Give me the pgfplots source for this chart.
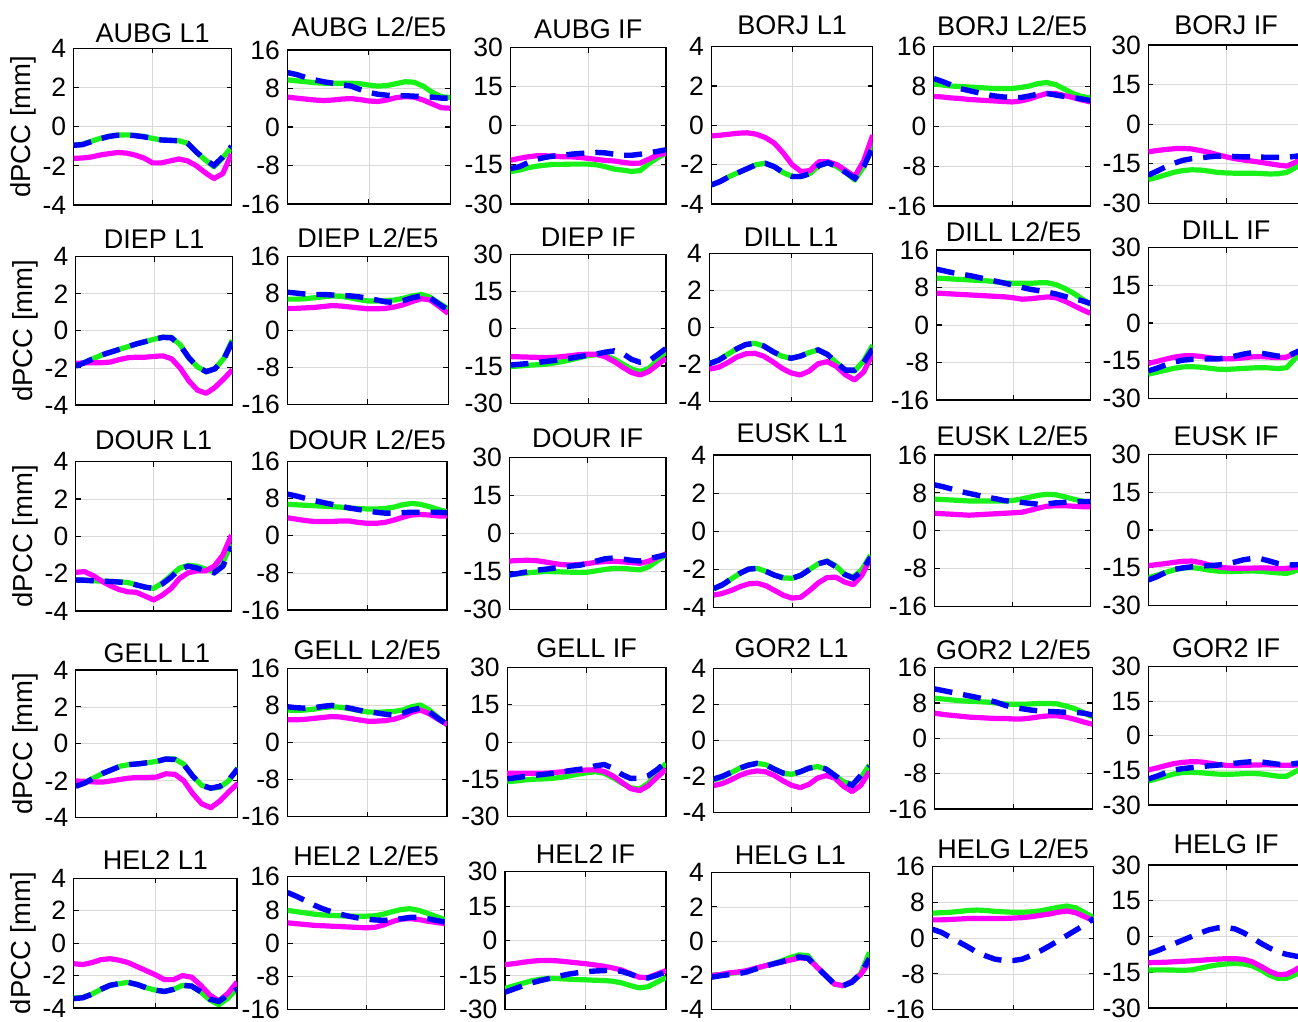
\documentclass[border=0pt]{standalone}
\usepackage{fontspec}
\setmainfont{Liberation Sans}
\usepackage{pgfplots}
\pgfplotsset{compat=1.18}
\definecolor{cg}{rgb}{0.1,0.95,0.1}
\definecolor{cm}{rgb}{1,0,1}
\definecolor{cb}{rgb}{0,0,1}
\pgfplotsset{
 every axis title/.style={at={(0.5,1)}, anchor=base, inner sep=0pt, font=\fontsize{27}{27}\selectfont},
 base/.style={scale only axis, xmin=0, xmax=18, xtick={9}, xticklabels={},
   grid=major, major grid style={line width=0.8pt, black!15},
   tick align=inside, xtick pos=both, ytick pos=both, yticklabel pos=left,
   axis line style={line width=1.1pt}, major tick style={line width=1.1pt, black},
   major tick length=5pt,
   yticklabel style={font=\fontsize{26.5}{26.5}\selectfont, xshift=-4pt},
   ylabel style={font=\fontsize{27.5}{27.5}\selectfont},
   clip=true},
 tsh/.style={title style={yshift=#1pt}},
 L1/.style={ymin=-4, ymax=4, ytick={-4,-2,0,2,4}, yticklabels={-4,-2,0,2,4}},
 L2/.style={ymin=-16, ymax=16, ytick={-16,-8,0,8,16}, yticklabels={-16,-8,0,8,16}},
 IF/.style={ymin=-30, ymax=30, ytick={-30,-15,0,15,30}, yticklabels={-30,-15,0,15,30}},
 yl/.style={ylabel={dPCC [mm]}},
 G/.style={color=cg, line width=5.2pt, line join=round},
 M/.style={color=cm, line width=5.2pt, line join=round},
 B/.style={color=cb, line width=5.4pt, dash pattern=on 18pt off 11pt},
}
\newcommand{\panel}[9]{%
\begin{axis}[base,#5,at={(#1pt,#2pt)},width=#3pt,height=#4pt,title={#6}]
\addplot[G] table[x expr=\coordindex,y index=0,row sep=\\,header=false]{#7};
\addplot[M] table[x expr=\coordindex,y index=0,row sep=\\,header=false]{#8};
\addplot[B] table[x expr=\coordindex,y index=0,row sep=\\,header=false]{#9};
\end{axis}}
\begin{document}
\begin{tikzpicture}
\path[use as bounding box] (0pt,0pt) rectangle (1298pt,1022pt);
% ---------------- Row 1
\panel{73.7}{817}{157.8}{156.7}{L1,yl,tsh=6}{AUBG L1}
{-0.94\\-0.9\\-0.75\\-0.6\\-0.5\\-0.43\\-0.42\\-0.45\\-0.5\\-0.6\\-0.68\\-0.7\\-0.72\\-0.85\\-1.3\\-1.7\\-2.05\\-1.6\\-1.05\\}
{-1.62\\-1.6\\-1.55\\-1.45\\-1.38\\-1.32\\-1.35\\-1.45\\-1.6\\-1.85\\-1.85\\-1.75\\-1.65\\-1.75\\-2.0\\-2.35\\-2.65\\-2.4\\-1.4\\}
{-0.95\\-0.92\\-0.77\\-0.62\\-0.5\\-0.44\\-0.43\\-0.46\\-0.52\\-0.6\\-0.68\\-0.7\\-0.72\\-0.85\\-1.3\\-1.68\\-1.98\\-1.55\\-1.0\\}
\panel{287.5}{818}{162.8}{154}{L2,tsh=13}{AUBG L2/E5}
{9.8\\9.6\\9.4\\9.2\\9.1\\9.1\\9.1\\9.1\\9.0\\8.7\\8.5\\8.6\\9.0\\9.4\\9.3\\8.5\\7.2\\6.3\\6.1\\}
{6.2\\6.0\\5.8\\5.6\\5.5\\5.6\\5.8\\5.9\\5.7\\5.4\\5.3\\5.6\\6.1\\6.3\\6.2\\5.6\\4.8\\4.0\\3.9\\}
{11.3\\10.9\\10.3\\9.8\\9.4\\9.1\\8.8\\8.5\\7.8\\7.2\\6.8\\6.6\\6.5\\6.5\\6.4\\6.3\\6.2\\6.0\\6.0\\}
\panel{510.5}{818}{155.5}{156.3}{IF,tsh=9}{AUBG IF}
{-17.6\\-17\\-16.1\\-15.5\\-15.1\\-14.8\\-14.8\\-14.7\\-14.7\\-14.7\\-15\\-15.7\\-16.6\\-17.0\\-17.5\\-17.2\\-14.5\\-12.3\\-10.5\\}
{-13.2\\-12.5\\-11.9\\-11.5\\-11.5\\-11.6\\-11.9\\-11.9\\-12.1\\-12.5\\-12.9\\-13.3\\-13.5\\-14.0\\-14.4\\-14.3\\-12.8\\-11.2\\-10.5\\}
{-16.4\\-15.7\\-14.2\\-12.9\\-12.1\\-11.6\\-11.3\\-10.9\\-10.6\\-10.4\\-10.2\\-10.4\\-10.9\\-11.3\\-11.3\\-10.9\\-10.4\\-9.8\\-9.2\\}
\panel{711.5}{818}{161.2}{157.3}{L1,tsh=12}{BORJ L1}
{-3.03\\-2.85\\-2.6\\-2.4\\-2.2\\-2.0\\-1.93\\-2.1\\-2.4\\-2.6\\-2.6\\-2.45\\-2.05\\-1.9\\-2.1\\-2.4\\-2.78\\-2.1\\-0.9\\}
{-0.54\\-0.5\\-0.45\\-0.4\\-0.38\\-0.45\\-0.62\\-0.9\\-1.4\\-2.0\\-2.35\\-2.3\\-1.85\\-1.85\\-2.0\\-2.3\\-2.6\\-1.8\\-0.5\\}
{-3.03\\-2.85\\-2.6\\-2.4\\-2.2\\-2.0\\-1.93\\-2.1\\-2.4\\-2.6\\-2.6\\-2.45\\-2.05\\-1.9\\-2.1\\-2.4\\-2.7\\-2.1\\-1.1\\}
\panel{933.8}{816}{156.5}{159.3}{L2,tsh=11}{BORJ L2/E5}
{8.5\\8.3\\8.1\\8.0\\7.9\\7.8\\7.7\\7.6\\7.6\\7.6\\7.8\\8.1\\8.6\\8.8\\8.4\\7.5\\6.6\\6.0\\5.7\\}
{6.0\\5.9\\5.7\\5.6\\5.4\\5.3\\5.2\\5.1\\5.0\\4.9\\5.1\\5.5\\6.1\\6.6\\6.6\\6.2\\5.8\\5.3\\4.9\\}
{9.6\\9.0\\8.3\\7.6\\7.2\\6.8\\6.4\\6.1\\5.9\\5.8\\5.8\\6.1\\6.5\\6.6\\6.3\\6.0\\5.8\\5.5\\5.2\\}
\panel{1148.4}{818.7}{155.6}{158.3}{IF,tsh=10}{BORJ IF}
{-21\\-20.2\\-19.2\\-18.2\\-17.6\\-17.3\\-17.4\\-17.8\\-18.3\\-18.5\\-18.6\\-18.6\\-18.6\\-18.7\\-18.9\\-18.8\\-18.3\\-16.5\\-14.0\\}
{-10.5\\-10.0\\-9.6\\-9.3\\-9.2\\-9.4\\-10.0\\-10.7\\-11.6\\-12.4\\-13.1\\-13.6\\-14.0\\-14.5\\-15.0\\-15.5\\-15.9\\-14.5\\-12.4\\}
{-19.3\\-17.8\\-16.2\\-14.8\\-13.7\\-13.1\\-12.8\\-12.4\\-12.1\\-12.1\\-12.3\\-12.4\\-12.4\\-12.5\\-12.6\\-12.6\\-12.6\\-12.2\\-11.7\\}
% ---------------- Row 2
\panel{75.8}{617}{156.5}{148.3}{L1,yl,tsh=8}{DIEP L1}
{-1.88\\-1.7\\-1.5\\-1.3\\-1.15\\-1.0\\-0.85\\-0.7\\-0.58\\-0.45\\-0.35\\-0.35\\-0.75\\-1.45\\-1.95\\-2.2\\-2.05\\-1.5\\-0.5\\}
{-1.75\\-1.73\\-1.72\\-1.72\\-1.68\\-1.55\\-1.45\\-1.42\\-1.42\\-1.38\\-1.35\\-1.5\\-2.0\\-2.7\\-3.2\\-3.37\\-3.05\\-2.6\\-2.1\\}
{-1.9\\-1.72\\-1.5\\-1.3\\-1.15\\-1.0\\-0.85\\-0.7\\-0.58\\-0.45\\-0.35\\-0.38\\-0.78\\-1.45\\-1.95\\-2.2\\-2.05\\-1.55\\-0.6\\}
\panel{287.5}{617.7}{160.7}{147.6}{L2,tsh=9}{DIEP L2/E5}
{6.8\\6.8\\6.9\\7.1\\7.3\\7.5\\7.4\\7.1\\6.7\\6.4\\6.4\\6.5\\6.6\\7.0\\7.5\\7.8\\7.2\\5.9\\4.7\\}
{4.8\\4.8\\4.9\\5.0\\5.2\\5.4\\5.3\\5.1\\4.9\\4.7\\4.7\\4.8\\5.1\\5.6\\6.3\\6.9\\6.6\\5.2\\3.7\\}
{8.3\\8.1\\7.9\\7.8\\7.8\\7.7\\7.6\\7.5\\7.3\\7.0\\6.6\\6.2\\6.1\\6.5\\7.1\\7.5\\7.0\\5.7\\4.4\\}
\panel{510.5}{618.7}{155.5}{149}{IF,tsh=8}{DIEP IF}
{-15.2\\-15.0\\-14.7\\-14.5\\-14.3\\-13.8\\-13.2\\-12.5\\-11.6\\-10.8\\-10.4\\-10.8\\-12.2\\-14.2\\-16.2\\-17.2\\-16.0\\-12.8\\-9.2\\}
{-11.2\\-11.3\\-11.4\\-11.5\\-11.6\\-11.5\\-11.2\\-10.8\\-10.4\\-10.2\\-10.3\\-11.3\\-13.2\\-15.5\\-17.6\\-18.6\\-17.2\\-14.5\\-11.9\\}
{-14.6\\-14.3\\-14.0\\-13.6\\-13.2\\-12.8\\-12.3\\-11.8\\-11.2\\-10.6\\-10.1\\-9.4\\-8.9\\-10.0\\-12.3\\-13.5\\-13.0\\-10.5\\-7.9\\}
\panel{709.4}{620.3}{163.3}{148.4}{L1,tsh=7}{DILL L1}
{-1.93\\-1.75\\-1.45\\-1.15\\-0.92\\-0.85\\-1.0\\-1.3\\-1.55\\-1.66\\-1.55\\-1.35\\-1.21\\-1.45\\-1.9\\-2.3\\-2.35\\-1.8\\-0.95\\}
{-2.24\\-2.15\\-1.9\\-1.6\\-1.42\\-1.39\\-1.55\\-1.85\\-2.2\\-2.45\\-2.56\\-2.35\\-1.95\\-1.84\\-2.1\\-2.55\\-2.83\\-2.4\\-1.4\\}
{-1.95\\-1.77\\-1.47\\-1.15\\-0.92\\-0.85\\-1.0\\-1.3\\-1.55\\-1.66\\-1.55\\-1.35\\-1.21\\-1.45\\-1.9\\-2.3\\-2.3\\-1.9\\-1.15\\}
\panel{936.7}{622}{153.6}{150}{L2,tsh=8}{DILL L2/E5}
{10.0\\9.9\\9.8\\9.7\\9.6\\9.5\\9.4\\9.2\\9.0\\8.9\\8.9\\8.9\\9.0\\9.0\\8.6\\7.8\\6.8\\5.6\\4.4\\}
{6.8\\6.7\\6.6\\6.5\\6.4\\6.3\\6.2\\6.1\\6.0\\5.8\\5.5\\5.6\\5.8\\6.0\\5.8\\5.1\\4.2\\3.3\\2.5\\}
{11.9\\11.5\\11.1\\10.8\\10.5\\10.1\\9.7\\9.3\\8.9\\8.5\\8.0\\7.6\\7.3\\7.0\\6.6\\6.1\\5.6\\5.2\\4.6\\}
\panel{1148.4}{623.7}{155.6}{150.6}{IF,tsh=8}{DILL IF}
{-20.4\\-19.6\\-18.8\\-18.0\\-17.5\\-17.4\\-17.6\\-18.0\\-18.4\\-18.5\\-18.3\\-18.1\\-17.9\\-17.8\\-17.9\\-18.2\\-17.8\\-14.0\\-10.1\\}
{-16.1\\-15.3\\-14.4\\-13.6\\-13.1\\-13.0\\-13.3\\-13.8\\-14.2\\-14.3\\-14.2\\-13.9\\-13.5\\-13.4\\-13.6\\-13.8\\-13.6\\-12.0\\-10.1\\}
{-19.1\\-18.0\\-16.7\\-15.5\\-14.8\\-14.5\\-14.4\\-14.3\\-14.3\\-13.9\\-13.2\\-12.4\\-11.8\\-12.0\\-12.6\\-13.2\\-13.3\\-11.8\\-10.1\\}
% ---------------- Row 3
\panel{75.8}{411}{155.7}{149.3}{L1,yl,tsh=12}{DOUR L1}
{-2.34\\-2.35\\-2.38\\-2.4\\-2.42\\-2.43\\-2.47\\-2.6\\-2.72\\-2.79\\-2.5\\-2.1\\-1.7\\-1.55\\-1.6\\-1.75\\-1.89\\-1.4\\-0.4\\}
{-1.93\\-1.89\\-2.1\\-2.4\\-2.65\\-2.85\\-2.97\\-3.0\\-3.2\\-3.41\\-3.15\\-2.8\\-2.25\\-1.95\\-1.85\\-1.85\\-1.6\\-1.0\\0.07\\}
{-2.34\\-2.35\\-2.38\\-2.4\\-2.42\\-2.45\\-2.5\\-2.6\\-2.72\\-2.79\\-2.55\\-2.2\\-1.75\\-1.6\\-1.7\\-1.85\\-1.95\\-1.6\\-0.55\\}
\panel{287.5}{412}{159.5}{148.3}{L2,tsh=12.5}{DOUR L2/E5}
{6.8\\6.7\\6.6\\6.5\\6.4\\6.3\\6.2\\6.0\\5.9\\5.8\\5.8\\5.9\\6.2\\6.7\\7.0\\6.8\\6.3\\5.7\\5.2\\}
{3.9\\3.6\\3.3\\3.1\\3.1\\3.1\\3.2\\3.2\\2.9\\2.7\\2.7\\2.9\\3.4\\4.0\\4.5\\4.6\\4.5\\4.3\\4.3\\}
{9.0\\8.6\\8.1\\7.6\\7.2\\6.8\\6.4\\6.0\\5.7\\5.4\\5.1\\4.9\\4.9\\5.0\\5.1\\5.1\\5.1\\5.1\\5.0\\}
\panel{509.3}{412.7}{156.7}{151.6}{IF,tsh=10.5}{DOUR IF}
{-16.4\\-16.0\\-15.6\\-15.3\\-15.1\\-15.1\\-15.2\\-15.3\\-15.4\\-15.3\\-14.8\\-14.2\\-13.8\\-13.8\\-14.1\\-14.4\\-13.2\\-10.8\\-8.5\\}
{-10.9\\-10.7\\-10.6\\-10.7\\-11.2\\-11.8\\-12.3\\-12.5\\-12.3\\-11.9\\-11.4\\-11.1\\-11.0\\-11.2\\-11.5\\-11.8\\-11.0\\-9.5\\-8.0\\}
{-16.4\\-15.8\\-15.2\\-14.6\\-14.2\\-13.8\\-13.3\\-12.9\\-12.6\\-11.9\\-10.9\\-10.0\\-9.7\\-10.1\\-10.6\\-10.9\\-10.0\\-9.2\\-8.5\\}
\panel{713.7}{414.3}{156.9}{152.7}{L1,tsh=12}{EUSK L1}
{-3.02\\-2.8\\-2.5\\-2.2\\-1.98\\-1.94\\-2.1\\-2.3\\-2.44\\-2.46\\-2.3\\-2.0\\-1.7\\-1.55\\-1.8\\-2.25\\-2.4\\-2.0\\-1.25\\}
{-3.34\\-3.25\\-3.1\\-2.9\\-2.75\\-2.72\\-2.85\\-3.1\\-3.35\\-3.5\\-3.45\\-3.1\\-2.7\\-2.42\\-2.4\\-2.65\\-2.8\\-2.3\\-1.4\\}
{-3.0\\-2.8\\-2.5\\-2.2\\-1.98\\-1.94\\-2.1\\-2.3\\-2.44\\-2.46\\-2.3\\-2.0\\-1.7\\-1.58\\-1.85\\-2.25\\-2.45\\-2.1\\-1.35\\}
\panel{934.6}{415.3}{155.7}{151.7}{L2,tsh=9}{EUSK L2/E5}
{6.7\\6.6\\6.5\\6.4\\6.3\\6.3\\6.3\\6.3\\6.3\\6.4\\6.7\\7.1\\7.5\\7.7\\7.6\\7.2\\6.7\\6.3\\6.0\\}
{3.7\\3.6\\3.5\\3.4\\3.3\\3.4\\3.5\\3.6\\3.7\\3.8\\3.9\\4.3\\4.8\\5.2\\5.3\\5.3\\5.2\\5.1\\5.1\\}
{9.7\\9.3\\8.8\\8.3\\7.9\\7.5\\7.1\\6.8\\6.4\\6.2\\6.0\\5.8\\5.6\\5.7\\5.9\\6.0\\6.1\\6.2\\6.2\\}
\panel{1148.4}{416.3}{155.6}{151.4}{IF,tsh=8.5}{EUSK IF}
{-18.9\\-17.9\\-16.8\\-15.8\\-15.1\\-14.9\\-15.3\\-15.9\\-16.3\\-16.5\\-16.4\\-16.3\\-16.2\\-16.4\\-16.7\\-17.0\\-17.2\\-16.2\\-15.0\\}
{-14.1\\-13.7\\-13.3\\-12.8\\-12.4\\-12.3\\-12.9\\-13.8\\-14.6\\-15.0\\-15.2\\-15.2\\-15.1\\-15.0\\-15.1\\-15.3\\-15.2\\-14.8\\-14.5\\}
{-19.8\\-18.5\\-16.8\\-15.6\\-15.0\\-14.6\\-14.3\\-14.1\\-13.9\\-13.5\\-12.7\\-11.8\\-11.3\\-11.4\\-12.3\\-13.3\\-13.9\\-13.8\\-13.6\\}
% ---------------- Row 4
\panel{75.8}{204.3}{162}{147.7}{L1,yl,tsh=8}{GELL L1}
{-2.27\\-2.1\\-1.85\\-1.6\\-1.4\\-1.2\\-1.12\\-1.08\\-1.02\\-0.95\\-0.82\\-0.82\\-1.1\\-1.75\\-2.25\\-2.41\\-2.35\\-2.0\\-1.3\\}
{-2.01\\-2.03\\-2.06\\-2.07\\-2.0\\-1.92\\-1.85\\-1.82\\-1.82\\-1.8\\-1.62\\-1.65\\-2.0\\-2.7\\-3.25\\-3.46\\-3.1\\-2.6\\-2.14\\}
{-2.3\\-2.12\\-1.85\\-1.6\\-1.4\\-1.2\\-1.12\\-1.08\\-1.02\\-0.95\\-0.82\\-0.85\\-1.12\\-1.75\\-2.25\\-2.4\\-2.3\\-1.95\\-1.35\\}
\panel{287.5}{205.3}{159.5}{148.4}{L2,tsh=8.5}{GELL L2/E5}
{7.0\\6.9\\7.0\\7.2\\7.5\\7.7\\7.6\\7.3\\6.9\\6.6\\6.5\\6.6\\6.7\\7.0\\7.7\\8.1\\7.0\\5.4\\3.8\\}
{4.9\\4.9\\5.0\\5.2\\5.4\\5.6\\5.5\\5.2\\4.9\\4.6\\4.6\\4.7\\5.0\\5.6\\6.5\\7.0\\6.2\\5.0\\3.9\\}
{7.7\\7.5\\7.4\\7.5\\7.8\\8.0\\7.8\\7.4\\7.0\\6.6\\6.4\\6.1\\5.9\\6.3\\7.0\\7.4\\6.6\\5.2\\3.9\\}
\panel{507.2}{205.3}{158.8}{149}{IF,tsh=10.5}{GELL IF}
{-15.9\\-15.6\\-15.2\\-14.9\\-14.8\\-14.6\\-14.2\\-13.6\\-12.9\\-12.3\\-11.9\\-12.5\\-14.3\\-16.5\\-18.3\\-18.9\\-16.5\\-12.5\\-8.5\\}
{-12.5\\-12.5\\-12.5\\-12.5\\-12.5\\-12.3\\-12.0\\-11.7\\-11.4\\-11.2\\-11.1\\-11.8\\-13.6\\-16.2\\-18.7\\-19.5\\-17.5\\-14.0\\-11.0\\}
{-14.8\\-14.3\\-13.8\\-13.4\\-13.0\\-12.6\\-12.1\\-11.5\\-11.0\\-10.6\\-9.5\\-9.0\\-10.5\\-13.0\\-14.6\\-14.5\\-13.5\\-11.0\\-8.0\\}
\panel{713.7}{209.7}{155.7}{144}{L1,tsh=11}{GOR2 L1}
{-2.2\\-2.05\\-1.8\\-1.55\\-1.38\\-1.28\\-1.35\\-1.6\\-1.82\\-1.89\\-1.75\\-1.55\\-1.46\\-1.6\\-1.95\\-2.3\\-2.45\\-2.1\\-1.37\\}
{-2.52\\-2.4\\-2.2\\-1.95\\-1.78\\-1.7\\-1.75\\-1.95\\-2.25\\-2.5\\-2.63\\-2.45\\-2.1\\-1.96\\-2.1\\-2.55\\-2.85\\-2.5\\-1.74\\}
{-2.15\\-2.0\\-1.78\\-1.55\\-1.38\\-1.28\\-1.35\\-1.6\\-1.82\\-1.89\\-1.75\\-1.55\\-1.46\\-1.6\\-1.95\\-2.3\\-2.5\\-1.95\\-1.45\\}
\panel{934.6}{213}{157.8}{141.3}{L2,tsh=8.5}{GOR2 L2/E5}
{9.1\\8.9\\8.7\\8.5\\8.4\\8.3\\8.2\\8.0\\7.8\\7.7\\7.7\\7.8\\7.9\\7.9\\7.8\\7.3\\6.7\\5.8\\4.9\\}
{5.7\\5.4\\5.2\\5.0\\4.8\\4.7\\4.6\\4.5\\4.5\\4.4\\4.4\\4.6\\4.9\\5.1\\5.1\\4.8\\4.3\\3.7\\3.2\\}
{11.2\\10.8\\10.4\\10.0\\9.6\\9.2\\8.7\\8.2\\7.5\\7.0\\6.7\\6.4\\6.2\\6.1\\6.0\\5.9\\5.9\\5.7\\5.3\\}
\panel{1148.4}{217}{155.6}{138.3}{IF,tsh=9.5}{GOR2 IF}
{-19.6\\-18.6\\-17.5\\-16.5\\-15.9\\-15.8\\-16.0\\-16.3\\-16.6\\-16.7\\-16.6\\-16.4\\-16.3\\-16.5\\-17.0\\-17.5\\-17.5\\-15.5\\-14.0\\}
{-14.8\\-13.9\\-12.9\\-12.0\\-11.5\\-11.2\\-11.3\\-11.8\\-12.4\\-12.8\\-12.9\\-12.8\\-12.7\\-12.6\\-12.6\\-12.7\\-12.8\\-12.7\\-12.6\\}
{-18.7\\-17.5\\-16.0\\-14.8\\-14.2\\-13.8\\-13.4\\-13.0\\-12.7\\-12.3\\-11.9\\-11.5\\-11.2\\-11.3\\-11.8\\-12.3\\-12.6\\-12.0\\-11.5\\}
% ---------------- Row 5
\panel{73.7}{14}{163.3}{129.7}{L1,yl,tsh=8.5}{HEL2 L1}
{-3.39\\-3.35\\-3.15\\-2.85\\-2.6\\-2.5\\-2.42\\-2.55\\-2.75\\-2.9\\-2.98\\-2.85\\-2.6\\-2.65\\-3.0\\-3.5\\-3.8\\-3.4\\-2.8\\}
{-1.27\\-1.32\\-1.2\\-1.02\\-0.96\\-1.05\\-1.2\\-1.45\\-1.7\\-1.95\\-2.25\\-2.25\\-2.0\\-2.1\\-2.6\\-3.2\\-3.56\\-3.1\\-2.4\\}
{-3.42\\-3.37\\-3.15\\-2.85\\-2.6\\-2.5\\-2.42\\-2.55\\-2.75\\-2.9\\-2.98\\-2.85\\-2.6\\-2.65\\-3.0\\-3.45\\-3.6\\-3.2\\-2.85\\}
\panel{287.5}{12.3}{157.4}{133}{L2,tsh=11.5}{HEL2 L2/E5}
{7.9\\7.6\\7.3\\7.0\\6.8\\6.7\\6.6\\6.5\\6.5\\6.5\\6.6\\7.0\\7.6\\8.1\\8.3\\7.9\\7.2\\6.4\\5.7\\}
{4.9\\4.7\\4.5\\4.3\\4.2\\4.1\\4.0\\3.9\\3.8\\3.7\\3.8\\4.4\\5.2\\5.8\\5.9\\5.7\\5.3\\5.0\\4.7\\}
{12.2\\11.3\\10.3\\9.2\\8.3\\7.6\\7.0\\6.5\\6.1\\5.8\\5.6\\5.5\\5.6\\5.9\\6.2\\6.2\\5.9\\5.5\\5.1\\}
\panel{505}{12.3}{161}{138}{IF,tsh=8}{HEL2 IF}
{-20.7\\-19.6\\-18.5\\-17.4\\-16.7\\-16.4\\-16.5\\-16.7\\-16.9\\-17.0\\-17.2\\-17.3\\-17.6\\-18.3\\-19.5\\-20.5\\-20.0\\-18.0\\-16.0\\}
{-10.4\\-10.0\\-9.4\\-8.9\\-8.6\\-8.6\\-8.8\\-9.2\\-9.6\\-10.0\\-10.5\\-11.1\\-11.8\\-12.7\\-14.3\\-15.9\\-16.0\\-14.5\\-13.0\\}
{-22.4\\-21.0\\-19.6\\-18.3\\-17.3\\-16.4\\-15.5\\-14.6\\-14.0\\-13.5\\-13.2\\-13.0\\-12.9\\-13.3\\-14.5\\-16.0\\-16.2\\-15.0\\-13.5\\}
\panel{711.5}{12.3}{157.9}{137}{L1,tsh=8.5}{HELG L1}
{-1.99\\-1.95\\-1.88\\-1.82\\-1.75\\-1.6\\-1.45\\-1.32\\-1.15\\-0.95\\-0.8\\-0.85\\-1.5\\-2.0\\-2.5\\-2.6\\-2.35\\-1.9\\-0.65\\}
{-2.0\\-1.95\\-1.85\\-1.8\\-1.72\\-1.58\\-1.45\\-1.33\\-1.22\\-1.1\\-0.98\\-1.0\\-1.5\\-2.0\\-2.5\\-2.6\\-2.35\\-1.95\\-1.2\\}
{-2.1\\-2.02\\-1.95\\-1.9\\-1.8\\-1.63\\-1.48\\-1.33\\-1.2\\-1.05\\-0.92\\-1.0\\-1.5\\-2.0\\-2.5\\-2.6\\-2.4\\-1.9\\-1.0\\}
\panel{932.5}{12.3}{161.2}{143}{L2,tsh=8.5}{HELG L2/E5}
{5.6\\5.7\\5.8\\6.0\\6.2\\6.3\\6.2\\6.0\\5.9\\5.8\\5.8\\5.9\\6.1\\6.5\\6.9\\7.2\\6.8\\5.7\\4.6\\}
{4.1\\4.1\\4.2\\4.3\\4.4\\4.4\\4.4\\4.4\\4.4\\4.5\\4.6\\4.8\\5.1\\5.4\\5.8\\6.1\\5.7\\4.8\\3.9\\}
{2.0\\1.3\\0.2\\-0.9\\-2.0\\-3.2\\-4.0\\-4.7\\-5.0\\-5.0\\-4.7\\-3.9\\-2.9\\-1.8\\-0.6\\0.6\\1.8\\3.0\\4.4\\}
\panel{1148.4}{14}{155.6}{143}{IF,tsh=11}{HELG IF}
{-14.1\\-14.0\\-14.0\\-14.1\\-14.2\\-14.0\\-13.3\\-12.5\\-11.9\\-11.5\\-11.3\\-11.5\\-12.3\\-14.0\\-16.2\\-17.6\\-17.5\\-16.0\\-14.0\\}
{-11.0\\-10.9\\-10.8\\-10.6\\-10.4\\-10.2\\-10.0\\-9.7\\-9.5\\-9.3\\-9.3\\-9.6\\-10.6\\-12.5\\-14.6\\-16.0\\-15.8\\-14.0\\-11.8\\}
{-7.2\\-6.0\\-4.5\\-3.0\\-1.5\\0.0\\1.5\\2.8\\3.6\\3.8\\3.2\\1.6\\-0.5\\-2.8\\-4.8\\-6.5\\-7.5\\-8.2\\-8.8\\}
\end{tikzpicture}
\end{document}
